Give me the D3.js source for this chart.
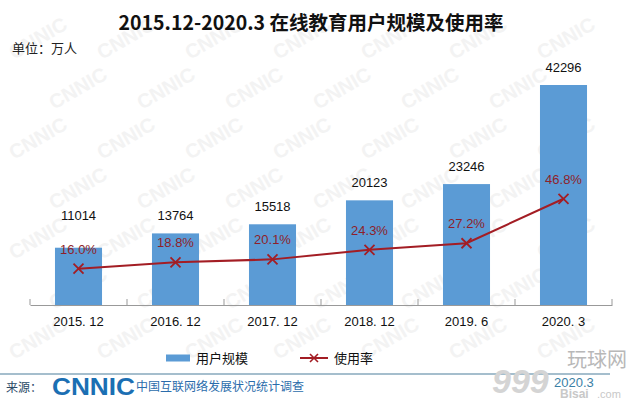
<!DOCTYPE html>
<html>
<head>
<meta charset="utf-8">
<script src="https://cdn.jsdelivr.net/npm/d3@7"></script>
<style>
  body { margin: 0; background: #fff; }
  svg { display: block; }
</style>
</head>
<body>
<svg width="643" height="403"></svg>
<script>
const categories = ["2015. 12", "2016. 12", "2017. 12", "2018. 12", "2019. 6", "2020. 3"];
const users = [11014, 13764, 15518, 20123, 23246, 42296];
const rates = [0.160, 0.188, 0.201, 0.243, 0.272, 0.468];

const svg = d3.select("svg");
const cjk = "'Noto Sans CJK SC', 'Noto Sans', sans-serif";
const latin = "'Liberation Sans', Arial, sans-serif";

// faint watermark, kept inside the frame
const wm = svg.append("g");
for (let r = 0; r < 7; r++) {
    for (let c = 0; c < 7; c++) {
        const wx = 14 + c * 88 + (r % 2) * 40;
        const wy = 60 + r * 50;
        if (wx > 570) continue;
        wm.append("text")
            .attr("transform", `translate(${wx}, ${wy}) rotate(-30)`)
            .attr("font-family", latin)
            .attr("font-weight", "bold")
            .attr("font-size", "20px")
            .attr("fill", "#f3f3f3")
            .text("CNNIC");
    }
}

// title
svg.append("text")
    .attr("x", 311)
    .attr("y", 30)
    .attr("text-anchor", "middle")
    .attr("font-family", cjk)
    .attr("font-weight", "bold")
    .attr("font-size", "19.5px")
    .attr("fill", "#111")
    .text("2015.12-2020.3 在线教育用户规模及使用率");

svg.append("text")
    .attr("x", 12)
    .attr("y", 53)
    .attr("font-family", cjk)
    .attr("font-size", "13px")
    .attr("fill", "#222")
    .text("单位：万人");

const base = 305;
const x = d3.scaleBand()
    .domain(categories)
    .range([30, 612]);

const y = d3.scaleLinear()
    .domain([0, 45000])
    .range([base, base - 45000 * 220 / 42296]);

const yr = d3.scaleLinear()
    .domain([0, 1])
    .range([base, 78]);

const barW = x.bandwidth() * 0.485;
const cx = d => x(d) + x.bandwidth() / 2;

// bars
svg.append("g").selectAll("rect")
    .data(users)
    .enter()
    .append("rect")
    .attr("x", (d, i) => cx(categories[i]) - barW / 2)
    .attr("y", d => y(d))
    .attr("width", barW)
    .attr("height", d => base - y(d))
    .attr("fill", "#5b9bd5");

// x axis
const xAxis = svg.append("g")
    .attr("transform", `translate(0, ${base})`)
    .call(d3.axisBottom(x).tickSize(0).tickPadding(12));
xAxis.select(".domain").attr("stroke", "#999");
xAxis.selectAll("text")
    .attr("font-family", latin)
    .attr("font-size", "13px")
    .attr("fill", "#111");
// tick marks at band edges
const edges = categories.map(c => x(c)).concat([x.range()[1]]);
xAxis.selectAll(".edge")
    .data(edges)
    .enter()
    .append("line")
    .attr("x1", d => d)
    .attr("x2", d => d)
    .attr("y1", -6)
    .attr("y2", 0)
    .attr("stroke", "#999");

// line
const line = d3.line()
    .x((d, i) => cx(categories[i]))
    .y(d => yr(d));

svg.append("path")
    .datum(rates)
    .attr("fill", "none")
    .attr("stroke", "#a31d24")
    .attr("stroke-width", 2)
    .attr("d", line);

const mk = 5;
svg.append("g").selectAll("path")
    .data(rates)
    .enter()
    .append("path")
    .attr("transform", (d, i) => `translate(${cx(categories[i])}, ${yr(d)})`)
    .attr("d", `M${-mk},${-mk}L${mk},${mk}M${-mk},${mk}L${mk},${-mk}`)
    .attr("stroke", "#a31d24")
    .attr("stroke-width", 1.8);

// rate labels
const rateLabelY = d => yr(d) - 20;
svg.append("g").selectAll("text")
    .data(rates)
    .enter()
    .append("text")
    .attr("x", (d, i) => cx(categories[i]))
    .attr("y", d => rateLabelY(d) + 5)
    .attr("text-anchor", "middle")
    .attr("font-family", latin)
    .attr("font-size", "13px")
    .attr("fill", "#8e1f2a")
    .text(d => (d * 100).toFixed(1) + "%");

// value labels, pushed up when they would crowd the rate label
svg.append("g").selectAll("text")
    .data(users)
    .enter()
    .append("text")
    .attr("x", (d, i) => cx(categories[i]))
    .attr("y", (d, i) => {
        let ly = y(d) - 18;
        const ry = rateLabelY(rates[i]);
        if (ry - ly < 22) ly = ry - 34;
        return ly + 5;
    })
    .attr("text-anchor", "middle")
    .attr("font-family", latin)
    .attr("font-size", "13px")
    .attr("fill", "#111")
    .text(d => d);

// legend
const lg = svg.append("g").attr("transform", "translate(0, 358)");
lg.append("rect")
    .attr("x", 166).attr("y", -3.5)
    .attr("width", 24).attr("height", 7)
    .attr("fill", "#5b9bd5");
lg.append("text")
    .attr("x", 196).attr("y", 5)
    .attr("font-family", cjk).attr("font-size", "13px").attr("fill", "#111")
    .text("用户规模");
lg.append("line")
    .attr("x1", 300).attr("x2", 328).attr("y1", 0).attr("y2", 0)
    .attr("stroke", "#a31d24").attr("stroke-width", 2);
lg.append("path")
    .attr("transform", "translate(314, 0)")
    .attr("d", "M-4,-4L4,4M-4,4L4,-4")
    .attr("stroke", "#a31d24").attr("stroke-width", 1.6);
lg.append("text")
    .attr("x", 334).attr("y", 5)
    .attr("font-family", cjk).attr("font-size", "13px").attr("fill", "#111")
    .text("使用率");

// footer
svg.append("line")
    .attr("x1", 0).attr("x2", 610)
    .attr("y1", 374).attr("y2", 374)
    .attr("stroke", "#4d7f9c").attr("stroke-width", 1.2);

svg.append("text")
    .attr("x", 6).attr("y", 392)
    .attr("font-family", cjk).attr("font-size", "12px").attr("fill", "#2a4a66")
    .text("来源：");

svg.append("text")
    .attr("x", 52).attr("y", 395)
    .attr("font-family", latin).attr("font-weight", "bold")
    .attr("font-size", "24px").attr("fill", "#1b6fb3")
    .attr("textLength", 83).attr("lengthAdjust", "spacingAndGlyphs")
    .text("CNNIC");

svg.append("text")
    .attr("x", 136).attr("y", 391)
    .attr("font-family", cjk).attr("font-size", "12px").attr("fill", "#2b6cab")
    .text("中国互联网络发展状况统计调查");

// corner marks
svg.append("text")
    .attr("x", 492).attr("y", 393)
    .attr("font-family", latin).attr("font-weight", "bold").attr("font-style", "italic")
    .attr("font-size", "34px").attr("fill", "#d4d4d4")
    .text("999");
svg.append("text")
    .attr("x", 567).attr("y", 367)
    .attr("font-family", cjk).attr("font-size", "20px").attr("fill", "#b8b8b8")
    .text("玩球网");
svg.append("text")
    .attr("x", 554).attr("y", 387)
    .attr("font-family", latin).attr("font-size", "13px").attr("fill", "#3b7fa6")
    .text("2020.3");
svg.append("text")
    .attr("x", 560).attr("y", 398)
    .attr("font-family", latin).attr("font-weight", "bold")
    .attr("font-size", "12px").attr("fill", "#c8c8c8")
    .text("Bisai");
svg.append("text")
    .attr("x", 597).attr("y", 398)
    .attr("font-family", latin)
    .attr("font-size", "11px").attr("fill", "#c8c8c8")
    .text(".com");
</script>
</body>
</html>
